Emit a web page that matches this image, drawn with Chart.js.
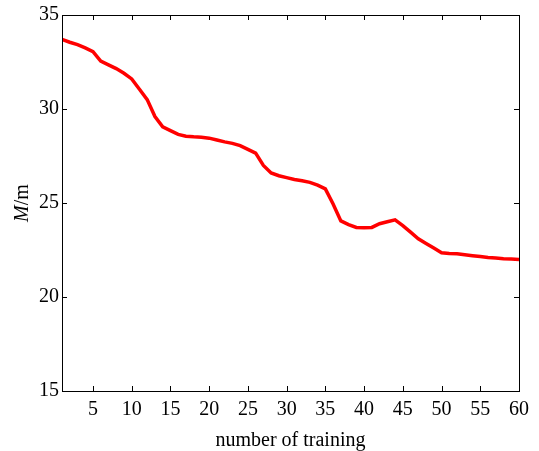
<!DOCTYPE html>
<html lang="en">
<head>
    <meta charset="UTF-8">
    <title>M/m vs number of training</title>
    <script src="https://cdn.jsdelivr.net/npm/chart.js"></script>
    <style>
        html, body { margin: 0; padding: 0; background: #fff; }
        .chart-container { width: 539px; height: 451px; }
    </style>
</head>
<body>
    <div class="chart-container">
        <canvas id="chartCanvas" width="539" height="451"></canvas>
    </div>

    <script>
        // training count (1..60) and value
        const trainingNo = [
            1, 2, 3, 4, 5, 6, 7, 8, 9, 10,
            11, 12, 13, 14, 15, 16, 17, 18, 19, 20,
            21, 22, 23, 24, 25, 26, 27, 28, 29, 30,
            31, 32, 33, 34, 35, 36, 37, 38, 39, 40,
            41, 42, 43, 44, 45, 46, 47, 48, 49, 50,
            51, 52, 53, 54, 55, 56, 57, 58, 59, 60
        ];
        const mValues = [
            33.70, 33.55, 33.42, 33.25, 33.05, 32.55, 32.35, 32.15, 31.90, 31.60,
            31.05, 30.50, 29.60, 29.05, 28.85, 28.65, 28.55, 28.52, 28.50, 28.45,
            28.35, 28.25, 28.17, 28.05, 27.85, 27.65, 27.00, 26.60, 26.45, 26.35,
            26.25, 26.18, 26.10, 25.95, 25.75, 24.95, 24.05, 23.85, 23.70, 23.68,
            23.70, 23.90, 24.00, 24.10, 23.80, 23.45, 23.10, 22.85, 22.60, 22.35,
            22.32, 22.30, 22.25, 22.20, 22.15, 22.10, 22.07, 22.04, 22.02, 22.00
        ];
        const xTicks = [5, 10, 15, 20, 25, 30, 35, 40, 45, 50, 55, 60];
        const yTicks = [15, 20, 25, 30, 35];

        const serif = '"Liberation Serif", "Times New Roman", serif';

        // frame on all four sides + inward tick marks (matlab style)
        const framePlugin = {
            id: 'frame',
            afterDraw(chart) {
                const ctx = chart.ctx;
                const a = chart.chartArea;
                const xs = chart.scales.x, ys = chart.scales.y;
                const len = 5;
                ctx.save();
                ctx.strokeStyle = '#000';
                ctx.lineWidth = 1;
                ctx.strokeRect(Math.round(a.left) + 0.5, Math.round(a.top) + 0.5,
                    Math.round(a.right - a.left), Math.round(a.bottom - a.top));
                ctx.beginPath();
                xTicks.forEach(v => {
                    const px = Math.round(xs.getPixelForValue(v)) + 0.5;
                    ctx.moveTo(px, a.bottom); ctx.lineTo(px, a.bottom - len);
                    ctx.moveTo(px, a.top); ctx.lineTo(px, a.top + len);
                });
                yTicks.forEach(v => {
                    const py = Math.round(ys.getPixelForValue(v)) + 0.5;
                    ctx.moveTo(a.left, py); ctx.lineTo(a.left + len, py);
                    ctx.moveTo(a.right, py); ctx.lineTo(a.right - len, py);
                });
                ctx.stroke();

                // axis titles
                ctx.fillStyle = '#000';
                ctx.font = '20px ' + serif;
                ctx.textAlign = 'center';
                ctx.textBaseline = 'middle';
                ctx.fillText('number of training', (a.left + a.right) / 2, 441);

                // y title: italic M + upright /m
                ctx.translate(23, (a.top + a.bottom) / 2);
                ctx.rotate(-Math.PI / 2);
                ctx.font = 'italic 20px ' + serif;
                const wM = ctx.measureText('M').width;
                ctx.font = '20px ' + serif;
                const wR = ctx.measureText('/m').width;
                const start = -(wM + wR) / 2;
                ctx.textAlign = 'left';
                ctx.font = 'italic 20px ' + serif;
                ctx.fillText('M', start, 0);
                ctx.font = '20px ' + serif;
                ctx.fillText('/m', start + wM, 0);
                ctx.restore();
            }
        };

        const chartCtx = document.getElementById('chartCanvas').getContext('2d');
        const chart = new Chart(chartCtx, {
            type: 'line',
            data: {
                datasets: [{
                    data: trainingNo.map((x, i) => ({ x: x, y: mValues[i] })),
                    borderColor: '#ff0000',
                    borderWidth: 3.5,
                    pointRadius: 0,
                    tension: 0,
                    fill: false
                }]
            },
            options: {
                responsive: false,
                animation: false,
                layout: { padding: { top: 13, right: 20, left: 0, bottom: 0 } },
                plugins: { legend: { display: false }, tooltip: { enabled: false } },
                scales: {
                    x: {
                        type: 'linear',
                        min: 1,
                        max: 60,
                        afterBuildTicks(scale) { scale.ticks = xTicks.map(v => ({ value: v })); },
                        afterFit(scale) { scale.height = 60; },
                        grid: { display: false, drawTicks: false },
                        border: { display: false },
                        ticks: { color: '#000', padding: 7, maxRotation: 0, font: { family: serif, size: 20 } }
                    },
                    y: {
                        min: 15,
                        max: 35,
                        afterBuildTicks(scale) { scale.ticks = yTicks.map(v => ({ value: v })); },
                        afterFit(scale) { scale.width = 62; },
                        grid: { display: false, drawTicks: false },
                        border: { display: false },
                        ticks: { color: '#000', padding: 3, font: { family: serif, size: 20 } }
                    }
                }
            },
            plugins: [framePlugin]
        });
    </script>
</body>
</html>
